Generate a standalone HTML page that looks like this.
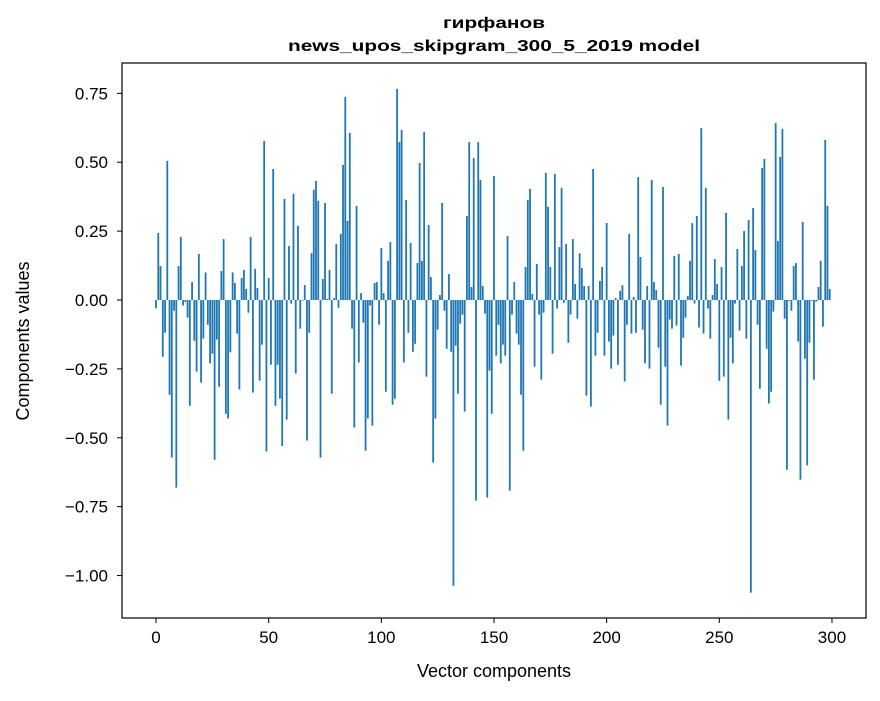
<!DOCTYPE html>
<html><head><meta charset="utf-8"><style>
body{margin:0;background:#fff;}
svg text{font-family:"Liberation Sans","DejaVu Sans",sans-serif;}
</style></head><body>
<svg id="c" width="880" height="696" viewBox="0 0 880 696" xmlns="http://www.w3.org/2000/svg">
<text x="494" y="28" text-anchor="middle" font-size="16" font-weight="bold" textLength="102" lengthAdjust="spacingAndGlyphs">гирфанов</text>
<text x="494" y="51" text-anchor="middle" font-size="16" font-weight="bold" textLength="412" lengthAdjust="spacingAndGlyphs">news_upos_skipgram_300_5_2019 model</text>
<g id="bars"></g>
<g id="axes"></g>
<rect x="122" y="63" width="744" height="555" fill="none" stroke="#000" stroke-width="1.2"/>
<text x="494" y="677" text-anchor="middle" font-size="18">Vector components</text>
<text transform="translate(29,341) rotate(-90)" text-anchor="middle" font-size="18">Components values</text>
</svg>
<script>
const values = [
-0.03,0.243,0.123,-0.206,-0.119,0.505,-0.344,-0.572,-0.039,-0.681,
0.123,0.229,-0.02,-0.007,-0.064,-0.384,0.065,-0.148,-0.26,0.167,
-0.30,-0.14,0.10,-0.09,-0.23,-0.195,-0.58,-0.144,-0.315,0.105,
0.221,-0.413,-0.43,-0.19,0.10,0.062,-0.122,-0.325,0.08,0.109,
0.04,-0.046,0.229,-0.336,0.113,0.044,-0.293,-0.162,0.577,-0.55,
0.08,-0.235,0.475,-0.384,-0.235,-0.358,-0.53,0.367,-0.434,0.196,
-0.013,0.385,-0.267,0.269,-0.104,-0.003,0.054,-0.51,-0.119,0.17,
0.40,0.432,0.36,-0.572,0.076,0.352,0.004,0.109,-0.34,0.007,
0.203,-0.028,0.24,0.49,0.737,0.287,0.606,-0.104,-0.463,0.341,
-0.227,0.025,-0.082,-0.547,-0.43,-0.02,-0.456,0.062,0.065,-0.09,
0.189,0.025,-0.333,0.142,0.21,-0.38,-0.358,0.766,0.573,0.617,
-0.227,0.363,-0.119,0.207,-0.188,-0.159,0.134,0.497,0.142,0.61,
-0.278,0.272,0.083,-0.59,-0.43,-0.108,0.018,0.352,-0.039,-0.177,
0.094,-0.188,-1.037,-0.166,-0.34,-0.086,-0.053,-0.405,0.305,0.573,
0.047,0.515,-0.728,0.573,0.436,0.051,-0.05,-0.717,-0.256,-0.413,
0.45,-0.202,-0.09,-0.23,-0.162,-0.202,0.232,-0.692,-0.053,0.065,
-0.122,-0.162,-0.344,-0.547,0.12,0.363,0.403,0.022,-0.242,0.131,
-0.053,-0.289,-0.046,0.461,0.338,0.12,-0.195,0.457,-0.031,0.192,
0.407,-0.01,0.203,-0.155,-0.053,0.221,0.058,-0.068,0.17,0.116,
0.051,-0.347,0.051,-0.387,0.475,-0.202,-0.119,0.069,0.12,-0.202,
0.279,-0.151,-0.249,-0.129,0.007,-0.235,0.033,0.054,-0.296,-0.09,
0.24,-0.122,0.011,-0.119,0.446,0.156,-0.108,-0.23,0.051,-0.249,
0.436,0.065,0.036,-0.173,-0.38,0.41,-0.242,-0.456,-0.071,-0.104,
0.16,-0.093,0.167,-0.238,-0.137,-0.064,0.015,0.142,0.279,-0.013,
0.305,-0.1,0.624,-0.122,0.407,-0.031,-0.14,0.018,0.149,0.058,
-0.293,0.12,-0.278,0.316,-0.434,-0.137,-0.23,-0.013,0.185,-0.111,
0.123,0.25,-0.14,0.29,-1.062,0.334,0.181,-0.09,-0.322,0.479,
0.512,-0.177,-0.376,-0.333,-0.042,0.642,0.214,0.519,0.621,-0.068,
-0.616,-0.004,-0.039,0.123,0.134,-0.151,-0.652,0.283,-0.213,-0.6,
-0.155,-0.003,-0.289,-0.006,0.047,0.142,-0.097,0.581,0.341,0.04
];
const xTicks = [0,50,100,150,200,250,300];
const yTicks = [0.75,0.5,0.25,0,-0.25,-0.5,-0.75,-1.0];
const yTickLabels = ["0.75","0.50","0.25","0.00","\u22120.25","\u22120.50","\u22120.75","\u22121.00"];

const NS="http://www.w3.org/2000/svg";
const X0=122,X1=866,Y0=63,Y1=618;
const xmin=-15.1,xmax=315.1,ymin=-1.154,ymax=0.86;
function sx(v){return X0+(v-xmin)/(xmax-xmin)*(X1-X0);}
function sy(v){return Y1-(v-ymin)/(ymax-ymin)*(Y1-Y0);}
const bars=document.getElementById('bars');
values.forEach((v,i)=>{
  const r=document.createElementNS(NS,'rect');
  const x=sx(i-0.4), w=sx(i+0.4)-sx(i-0.4);
  const y=Math.min(sy(v),sy(0)), h=Math.abs(sy(v)-sy(0));
  r.setAttribute('x',x);r.setAttribute('y',y);
  r.setAttribute('width',w);r.setAttribute('height',Math.max(h,0.3));
  r.setAttribute('fill','#1f77b4');
  
  
  bars.appendChild(r);
});
const axes=document.getElementById('axes');
xTicks.forEach(t=>{
  const x=sx(t);
  const l=document.createElementNS(NS,'line');
  l.setAttribute('x1',x);l.setAttribute('x2',x);l.setAttribute('y1',Y1);l.setAttribute('y2',Y1+5);
  l.setAttribute('stroke','#000');
  
  
  axes.appendChild(l);
  const tx=document.createElementNS(NS,'text');
  tx.setAttribute('x',x);tx.setAttribute('y',Y1+25);tx.setAttribute('text-anchor','middle');tx.setAttribute('font-size','17');
  tx.textContent=String(t);
  
  
  axes.appendChild(tx);
});
yTicks.forEach((t,k)=>{
  const y=sy(t);
  const l=document.createElementNS(NS,'line');
  l.setAttribute('x1',X0-5);l.setAttribute('x2',X0);l.setAttribute('y1',y);l.setAttribute('y2',y);
  l.setAttribute('stroke','#000');
  
  
  axes.appendChild(l);
  const tx=document.createElementNS(NS,'text');
  tx.setAttribute('x',X0-14);tx.setAttribute('y',y+6);tx.setAttribute('text-anchor','end');tx.setAttribute('font-size','17');
  tx.textContent=yTickLabels[k];
  
  
  axes.appendChild(tx);
});
</script>
</body></html>
